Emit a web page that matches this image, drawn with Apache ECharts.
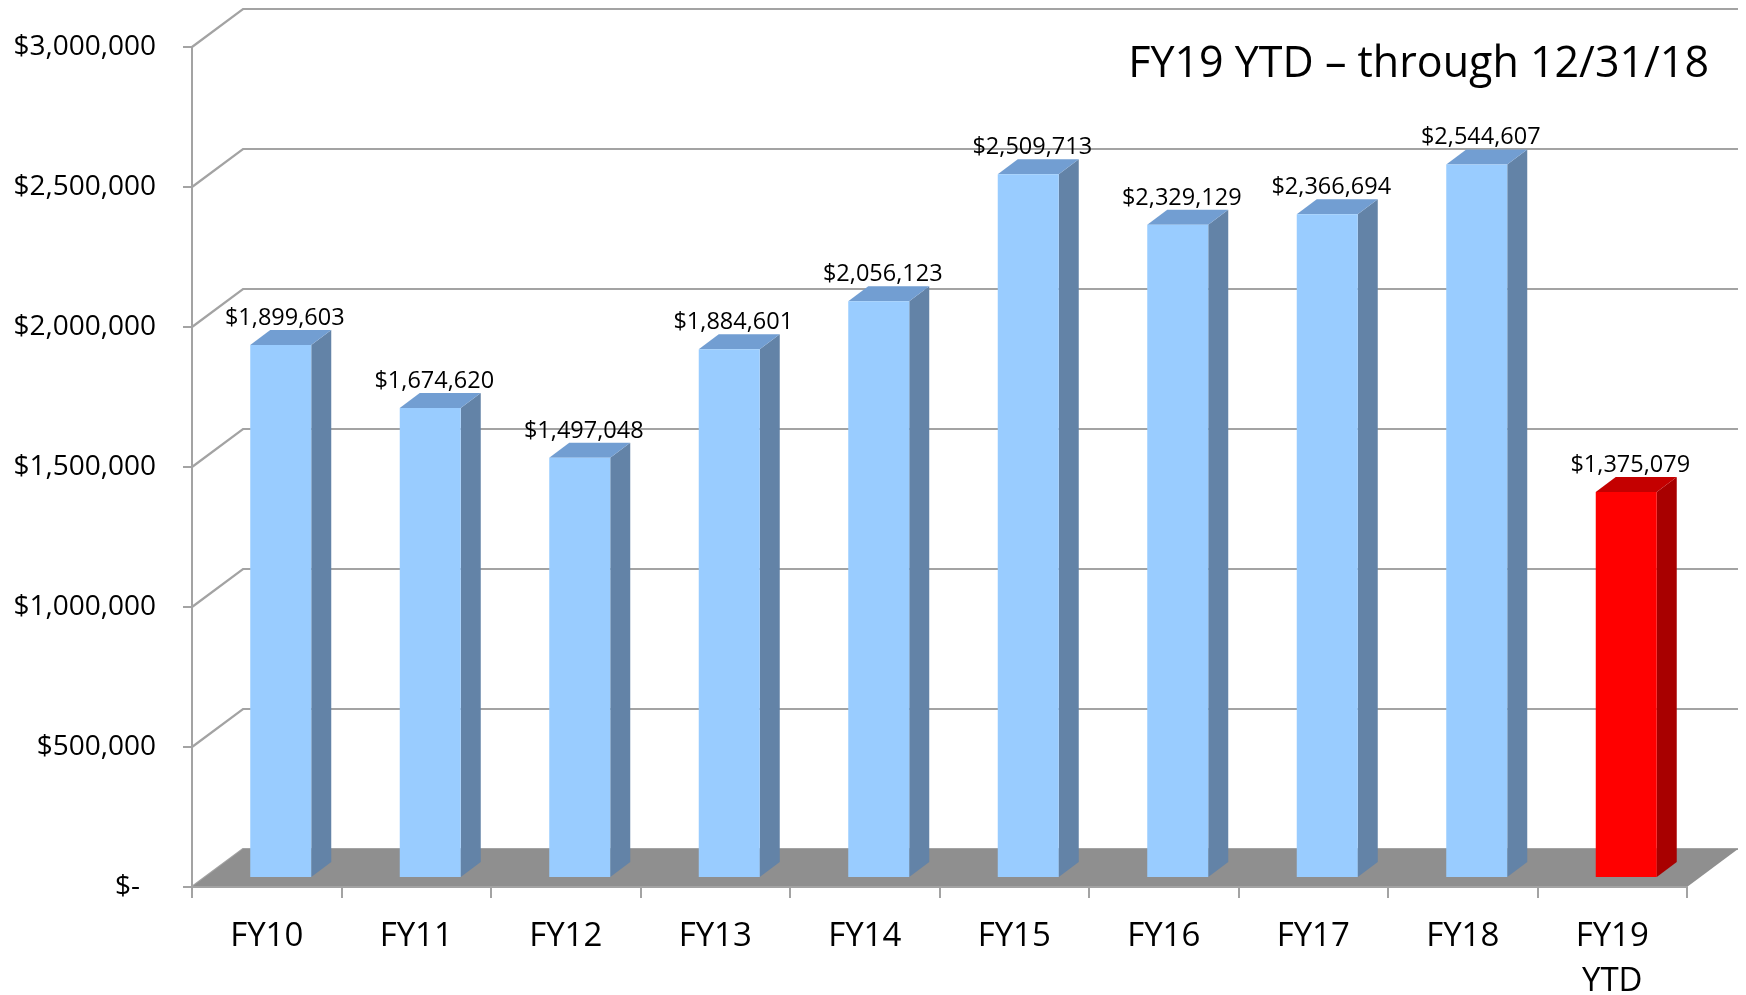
<!DOCTYPE html>
<html>
<head>
<meta charset="utf-8">
<script src="https://cdn.jsdelivr.net/npm/echarts@6/dist/echarts.min.js"></script>
<style>
html,body{margin:0;padding:0;background:#fff;}
#chart{width:1746px;height:995px;}
</style>
</head>
<body>
<div id="chart"></div>
<script>
// ---- data ----
const categories = ['FY10','FY11','FY12','FY13','FY14','FY15','FY16','FY17','FY18','FY19\nYTD'];
const revenue = [1899603,1674620,1497048,1884601,2056123,2509713,2329129,2366694,2544607,1375079];
const yTicks = [0,500000,1000000,1500000,2000000,2500000,3000000];
const highlightCategory = 'FY19\nYTD';
const titleText = 'FY19 YTD \u2013 through 12/31/18';

// ---- style / geometry ----
const FONT = '"Open Sans", "Noto Sans", sans-serif';
const WALL_DX = 51, WALL_DY = 38;      // depth of the 3D box
const BAR_OX = 14, BAR_OY = 10;        // bar front face offset from front plane
const BAR_DX = 20, BAR_DY = 15;        // bar depth
const BAR_W = 0.408;                   // bar width as share of band
const GRID_COLOR = '#a3a3a3';
const FLOOR_COLOR = '#8f8f8f';
const BLUE = {front:'#99ccff', side:'#6383a7', top:'#729ed2'};
const RED = {front:'#ff0000', side:'#a80000', top:'#c40000'};

function fmtMoney(v){ return '$' + v.toLocaleString('en-US'); }

const chart = echarts.init(document.getElementById('chart'), null, {renderer:'canvas'});

const option = {
  animation:false,
  backgroundColor:'#ffffff',
  title:{
    text:titleText, right:32, top:38,
    textStyle:{fontFamily:FONT, fontSize:43, fontWeight:'normal', color:'#000'}
  },
  grid:{left:192, top:47, right:59, bottom:108, containLabel:false, outerBoundsMode:'none'},
  xAxis:{
    type:'category', data:categories, boundaryGap:true,
    axisLine:{show:true, lineStyle:{color:GRID_COLOR, width:2}},
    axisTick:{show:true, interval:0, length:11, lineStyle:{color:GRID_COLOR, width:2}},
    axisLabel:{interval:0, margin:27, fontFamily:FONT, fontSize:33, color:'#000', lineHeight:45},
    splitLine:{show:false}, z:5
  },
  yAxis:{
    type:'value', min:0, max:3000000, interval:500000,
    axisLine:{show:true, lineStyle:{color:GRID_COLOR, width:2}},
    axisTick:{show:true, length:9, lineStyle:{color:GRID_COLOR, width:2}},
    splitLine:{show:false},
    axisLabel:{
      margin:36, fontFamily:FONT, fontSize:28, color:'#000',
      formatter:function(v){ return v === 0 ? '{z|$-}' : fmtMoney(v); },
      rich:{z:{fontFamily:FONT, fontSize:28, color:'#000', padding:[0,16,0,0]}}
    }, z:5
  },
  series:[
    { // back & side walls gridlines
      type:'custom', z:1, silent:true,
      data: yTicks.map(t => [0, t]),
      encode:{x:0, y:1},
      renderItem:function(params, api){
        const cs = params.coordSys;
        const y = api.coord([0, api.value(1)])[1];
        const x0 = cs.x, x1 = cs.x + cs.width;
        return {
          type:'polyline',
          shape:{points:[[x0, y],[x0+WALL_DX, y-WALL_DY],[x1+WALL_DX, y-WALL_DY]]},
          style:{stroke:GRID_COLOR, lineWidth:2.2, fill:null}
        };
      }
    },
    { // floor
      type:'custom', z:2, silent:true,
      data:[[0, 0]],
      encode:{x:0, y:1},
      renderItem:function(params, api){
        const cs = params.coordSys;
        const y = api.coord([0, 0])[1];
        const x0 = cs.x, x1 = cs.x + cs.width;
        return {
          type:'polygon',
          shape:{points:[[x0,y],[x0+WALL_DX,y-WALL_DY],[x1+WALL_DX,y-WALL_DY],[x1,y]]},
          style:{fill:FLOOR_COLOR}
        };
      }
    },
    { // 3D bars
      type:'custom', z:3,
      data: revenue.map((v,i) => [i, v]),
      encode:{x:0, y:1},
      renderItem:function(params, api){
        const i = api.value(0), v = api.value(1);
        const base = api.coord([i, 0]);
        const top = api.coord([i, v]);
        const band = api.size([1, 0])[0];
        const w = band * BAR_W;
        const c = categories[i] === highlightCategory ? RED : BLUE;
        const xl = base[0] - w/2 + BAR_OX, xr = xl + w;
        const yb = base[1] - BAR_OY, yt = top[1] - BAR_OY;
        return {
          type:'group',
          children:[
            {type:'polygon', shape:{points:[[xr,yb],[xr+BAR_DX,yb-BAR_DY],[xr+BAR_DX,yt-BAR_DY],[xr,yt]]},
             style:{fill:c.side}},
            {type:'polygon', shape:{points:[[xl,yt],[xl+BAR_DX,yt-BAR_DY],[xr+BAR_DX,yt-BAR_DY],[xr,yt]]},
             style:{fill:c.top}},
            {type:'rect', shape:{x:xl, y:yt, width:w, height:yb-yt},
             style:{fill:c.front}},
            {type:'text', x:(xl+xr)/2 + 4, y:yt - BAR_DY - 12,
             style:{text:fmtMoney(v), fontFamily:FONT, fontSize:23.5, fill:'#000',
                    align:'center', verticalAlign:'middle'}}
          ]
        };
      }
    }
  ]
};
chart.setOption(option);
</script>
</body>
</html>
